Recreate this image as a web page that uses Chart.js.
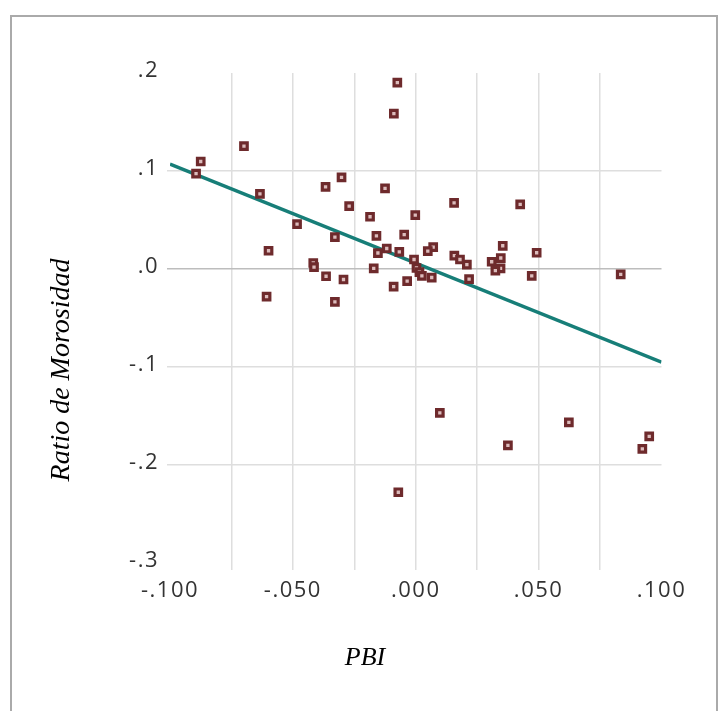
<!DOCTYPE html>
<html>
<head>
<meta charset="utf-8">
<script src="https://cdn.jsdelivr.net/npm/chart.js@4/dist/chart.umd.min.js"></script>
<style>
  html, body { margin: 0; padding: 0; background: #fff; overflow: hidden; }
  #wrap { position: relative; width: 726px; height: 711px; }
  #frame { position: absolute; left: 10px; top: 15px; width: 704px; height: 720px; border: 2px solid #aaaaaa; }
  #chart { position: absolute; left: 0; top: 0; }
</style>
</head>
<body>
<div id="wrap">
  <div id="frame"></div>
  <canvas id="chart" width="726" height="711"></canvas>
</div>
<script>
// Datos: PBI (eje x) y ratio de morosidad (eje y)
const pbi = [
  -0.0075, -0.0089, -0.0699, -0.0875, -0.0894, -0.0634, -0.0302, -0.0367, -0.0125, -0.0271,
  -0.0186, -0.0002, 0.0156, 0.0425, -0.0483, -0.0329, -0.0160, -0.0047, -0.0599, -0.0118,
  -0.0067, -0.0154, 0.0071, 0.0049, -0.0007, 0.0157, 0.0180, 0.0208, 0.0354, 0.0346,
  0.0309, 0.0345, 0.0324, 0.0492, 0.0472, 0.0834, -0.0417, -0.0414, -0.0171, -0.0365,
  -0.0294, -0.0607, -0.0329, 0.0003, 0.0015, 0.0025, 0.0065, -0.0035, -0.0090, 0.0217,
  0.0098, 0.0375, 0.0623, 0.0950, 0.0922, -0.0071
];
const morosidad = [
  0.1901, 0.1586, 0.1253, 0.1097, 0.0973, 0.0767, 0.0934, 0.0838, 0.0822, 0.0642,
  0.0533, 0.0550, 0.0674, 0.0660, 0.0458, 0.0326, 0.0338, 0.0351, 0.0186, 0.0209,
  0.0175, 0.0163, 0.0224, 0.0183, 0.0097, 0.0137, 0.0097, 0.0044, 0.0237, 0.0112,
  0.0074, 0.0007, -0.0017, 0.0166, -0.0071, -0.0054, 0.0061, 0.0020, 0.0007, -0.0074,
  -0.0107, -0.0282, -0.0336, 0.0010, -0.0031, -0.0071, -0.0087, -0.0124, -0.0180, -0.0104,
  -0.1469, -0.1799, -0.1565, -0.1708, -0.1836, -0.2278
];
// Extremos de la recta de ajuste
const lineaX = [-0.1, 0.1];
const lineaY = [0.107, -0.095];

const xTicks = { min: -0.1, max: 0.1, step: 0.025 };
const yTicks = { min: -0.3, max: 0.2, step: 0.1 };
const xTitle = 'PBI';
const yTitle = 'Ratio de Morosidad';

const puntos = pbi.map((x, i) => ({ x: x, y: morosidad[i] }));
const recta = lineaX.map((x, i) => ({ x: x, y: lineaY[i] }));

function sinCero(s) {
  return s.replace(/^(-?)0\./, '$1.');
}

function gridColor(ctx, zeroColor) {
  const n = ctx.scale.ticks.length;
  if (ctx.index === 0 || ctx.index === n - 1) return 'rgba(0,0,0,0)';
  if (zeroColor && Math.abs(ctx.tick.value) < 1e-9) return zeroColor;
  return '#dedede';
}

// Títulos de ejes y espaciado de letras de las etiquetas
const titulos = {
  id: 'titulos',
  beforeDraw(chart) {
    chart.ctx.letterSpacing = '1.5px';
  },
  afterDraw(chart) {
    const ctx = chart.ctx;
    ctx.save();
    ctx.letterSpacing = '0px';
    ctx.fillStyle = '#000';
    ctx.textAlign = 'center';
    ctx.textBaseline = 'middle';
    ctx.font = 'italic 26px "Liberation Serif", "Times New Roman", serif';
    ctx.fillText(xTitle, 365, 658);
    ctx.font = 'italic 28px "Liberation Serif", "Times New Roman", serif';
    ctx.translate(62, 370);
    ctx.rotate(-Math.PI / 2);
    ctx.fillText(yTitle, 0, 0);
    ctx.restore();
  }
};

const ctx = document.getElementById('chart').getContext('2d');
new Chart(ctx, {
  type: 'scatter',
  data: {
    datasets: [
      {
        type: 'line',
        data: recta,
        borderColor: '#177e78',
        borderWidth: 3.5,
        pointRadius: 0,
        fill: false,
        order: 2
      },
      {
        data: puntos,
        pointStyle: 'rect',
        pointRadius: 4.6,
        borderWidth: 3.2,
        borderColor: '#6e2a2c',
        backgroundColor: '#dcbcbc',
        order: 1
      }
    ]
  },
  options: {
    responsive: false,
    animation: false,
    layout: { padding: { left: 0, top: 73, right: 64.5, bottom: 0 } },
    plugins: {
      legend: { display: false },
      tooltip: { enabled: false }
    },
    scales: {
      x: {
        type: 'linear',
        min: xTicks.min,
        max: xTicks.max,
        border: { display: false },
        grid: {
          color: (c) => gridColor(c, null),
          lineWidth: 1.5,
          tickLength: 7,
          drawTicks: true
        },
        ticks: {
          stepSize: xTicks.step,
          autoSkip: false,
          maxRotation: 0,
          padding: 8,
          color: '#333',
          font: { family: '"Open Sans", sans-serif', size: 22 },
          callback: function(v) {
            if (Math.round(v * 1000) % 50 !== 0) return '';
            return sinCero(v.toFixed(3));
          }
        },
        afterFit: function(scale) { scale.height = 148; }
      },
      y: {
        type: 'linear',
        min: yTicks.min,
        max: yTicks.max,
        border: { display: false },
        grid: {
          color: (c) => gridColor(c, '#bdbdbd'),
          lineWidth: 1.5,
          tickLength: 3
        },
        ticks: {
          stepSize: yTicks.step,
          padding: 8,
          labelOffset: -2,
          color: '#333',
          font: { family: '"Open Sans", sans-serif', size: 22 },
          callback: function(v) { return sinCero(v.toFixed(1)); }
        },
        afterFit: function(scale) { scale.width = 170; }
      }
    }
  },
  plugins: [titulos]
});
</script>
</body>
</html>
